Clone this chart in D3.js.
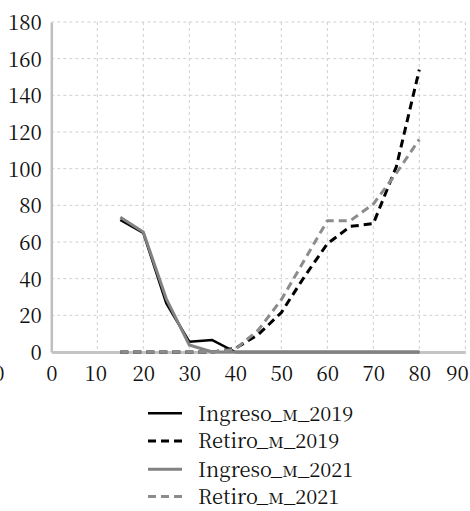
<!DOCTYPE html>
<html>
<head>
<meta charset="utf-8">
<script src="https://cdn.jsdelivr.net/npm/d3@7"></script>
<style>
  html, body { margin: 0; padding: 0; background: #fff; }
  svg { display: block; }
</style>
</head>
<body>
<svg id="chart" width="470" height="511"></svg>
<script>
// Age groups and series values
const ages = [15, 20, 25, 30, 35, 40, 45, 50, 55, 60, 65, 70, 75, 80];
const ingreso2019 = [72, 65, 26.5, 5.6, 6.5, 0, 0, 0, 0, 0, 0, 0, 0, 0];
const retiro2019  = [0, 0, 0, 0, 0, 2, 9.5, 21.5, 41, 59, 68.5, 70, 101, 154];
const ingreso2021 = [73.5, 65.5, 29, 3.8, 0, 0, 0, 0, 0, 0, 0, 0, 0, 0];
const retiro2021  = [0, 0, 0, 0, 0, 1.5, 12, 28.5, 50, 71.6, 71.6, 80.7, 97.5, 116];

const seriesNames = ["Ingreso_м_2019", "Retiro_м_2019", "Ingreso_м_2021", "Retiro_м_2021"];
const xTicks = [0, 10, 20, 30, 40, 50, 60, 70, 80, 90];
const yTicks = [0, 20, 40, 60, 80, 100, 120, 140, 160, 180];

const FONT = "'Noto Serif CJK SC', 'Liberation Serif'";
const TEXT_COLOR = "#111";

const styles = [
  { color: "#000000", width: 2.5, dash: null },
  { color: "#000000", width: 3,   dash: "8,5" },
  { color: "#828282", width: 3,   dash: null },
  { color: "#8c8c8c", width: 3,   dash: "8,5" }
];
const seriesValues = [ingreso2019, retiro2019, ingreso2021, retiro2021];

const svg = d3.select("#chart");
const plotLeft = 51.3, plotRight = 465.3, plotTop = 22, plotBottom = 352;

const x = d3.scaleLinear().domain([0, 90]).range([plotLeft, plotRight]);
const y = d3.scaleLinear().domain([0, 180]).range([plotBottom, plotTop]);

// Dashed gridlines
const grid = svg.append("g");
grid.selectAll("line.h").data(yTicks.slice(1)).enter().append("line")
  .attr("x1", plotLeft).attr("x2", plotRight)
  .attr("y1", d => y(d)).attr("y2", d => y(d))
  .attr("stroke", "#cfcfcf").attr("stroke-width", 1).attr("stroke-dasharray", "3,3");
grid.selectAll("line.v").data(xTicks.slice(1)).enter().append("line")
  .attr("y1", plotTop).attr("y2", plotBottom)
  .attr("x1", d => x(d)).attr("x2", d => x(d))
  .attr("stroke", "#cfcfcf").attr("stroke-width", 1).attr("stroke-dasharray", "3,3");

// Axes
const yAxis = d3.axisLeft(y).tickValues(yTicks).tickSize(0).tickPadding(9.5);
const gy = svg.append("g").attr("transform", `translate(${plotLeft},0)`).call(yAxis);
gy.select(".domain").attr("stroke", "#bfbfbf").attr("stroke-width", 2.5);
gy.selectAll("text").attr("dy", "0.36em").attr("fill", TEXT_COLOR)
  .style("font-family", FONT).style("font-size", "20.5px");

const xAxis = d3.axisBottom(x).tickValues(xTicks).tickSize(0).tickPadding(14.2);
const gx = svg.append("g").attr("transform", `translate(0,${plotBottom})`).call(xAxis);
gx.select(".domain").attr("stroke", "#c4c4c4").attr("stroke-width", 3);
gx.selectAll("text").attr("fill", TEXT_COLOR)
  .style("font-family", FONT).style("font-size", "20.5px")
  .attr("text-anchor", d => d === 90 ? "end" : "middle")
  .attr("dx", d => d === 90 ? 3 : (d === 10 ? -2 : 0));

// Stray label at the left edge
svg.append("text").attr("x", -1).attr("y", 381).attr("text-anchor", "middle")
  .style("font-family", FONT).style("font-size", "20.5px").attr("fill", TEXT_COLOR).text("0");

// Series lines
const line = d3.line().x(d => x(d[0])).y(d => y(d[1]));
seriesValues.forEach((vals, i) => {
  const pts = ages.map((a, j) => [a, vals[j]]);
  const s = styles[i];
  svg.append("path").datum(pts)
    .attr("d", line)
    .attr("fill", "none")
    .attr("stroke", s.color)
    .attr("stroke-width", s.width)
    .attr("stroke-linejoin", "round")
    .attr("stroke-dasharray", s.dash);
});

// Legend
const legRows = [413.3, 441, 469.3, 496.5];
const leg = svg.append("g");
seriesNames.forEach((name, i) => {
  const s = styles[i];
  leg.append("line")
    .attr("x1", 148).attr("x2", 182)
    .attr("y1", legRows[i]).attr("y2", legRows[i])
    .attr("stroke", s.color).attr("stroke-width", s.width)
    .attr("stroke-dasharray", s.dash);
  leg.append("text")
    .attr("x", 198).attr("y", legRows[i] + 7.3)
    .attr("fill", TEXT_COLOR)
    .style("font-family", FONT).style("font-size", "20px")
    .text(name);
});
</script>
</body>
</html>
